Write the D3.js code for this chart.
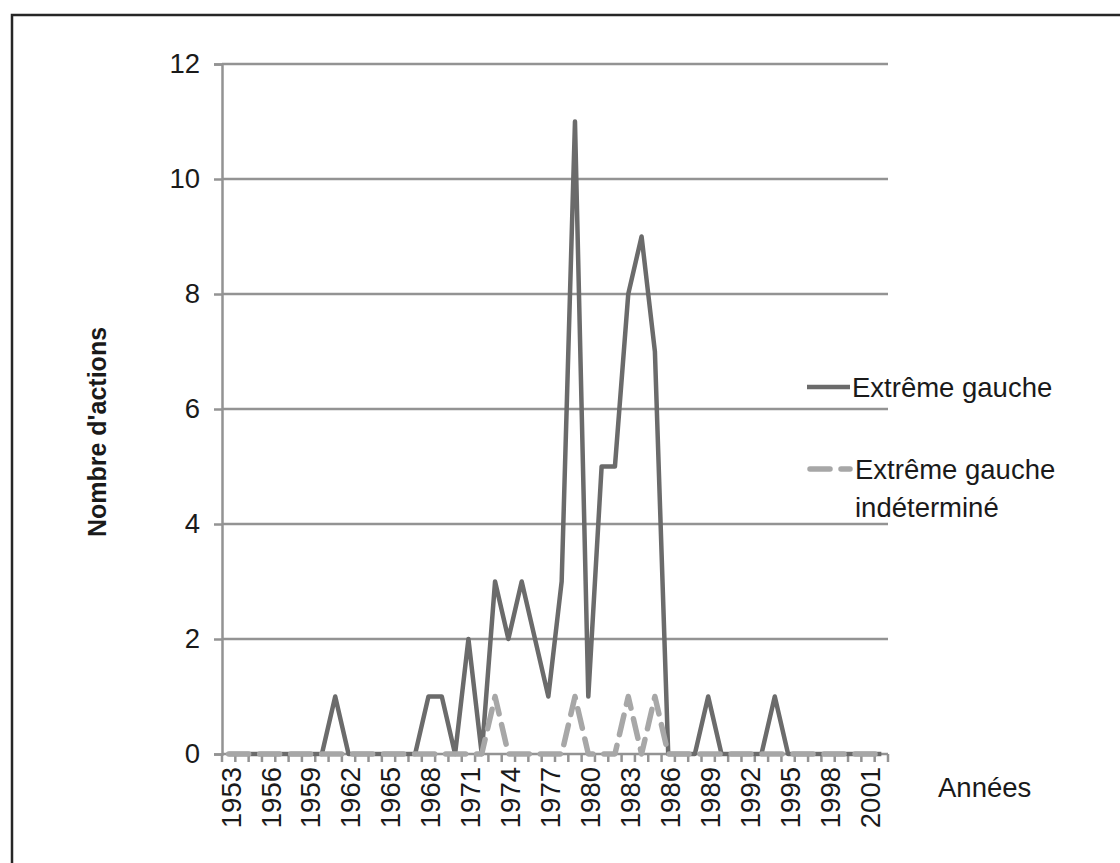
<!DOCTYPE html>
<html>
<head>
<meta charset="utf-8">
<script src="https://cdn.jsdelivr.net/npm/d3@7"></script>
<style>
  body { margin: 0; background: #fff; }
  text { font-family: "Liberation Sans", Arial, sans-serif; fill: #1a1a1a; }
</style>
</head>
<body>
<div id="chart"></div>
<script>
const years = [1953, 1954, 1955, 1956, 1957, 1958, 1959, 1960, 1961, 1962,
    1963, 1964, 1965, 1966, 1967, 1968, 1969, 1970, 1971, 1972,
    1973, 1974, 1975, 1976, 1977, 1978, 1979, 1980, 1981, 1982,
    1983, 1984, 1985, 1986, 1987, 1988, 1989, 1990, 1991, 1992,
    1993, 1994, 1995, 1996, 1997, 1998, 1999, 2000, 2001, 2002];

// Extrême gauche
const gauche = [0, 0, 0, 0, 0, 0, 0, 0, 1, 0,
    0, 0, 0, 0, 0, 1, 1, 0, 2, 0,
    3, 2, 3, 2, 1, 3, 11, 1, 5, 5,
    8, 9, 7, 0, 0, 0, 1, 0, 0, 0,
    0, 1, 0, 0, 0, 0, 0, 0, 0, 0];

// Extrême gauche indéterminé
const indetermine = [0, 0, 0, 0, 0, 0, 0, 0, 0, 0,
    0, 0, 0, 0, 0, 0, 0, 0, 0, 0,
    1, 0, 0, 0, 0, 0, 1, 0, 0, 0,
    1, 0, 1, 0, 0, 0, 0, 0, 0, 0,
    0, 0, 0, 0, 0, 0, 0, 0, 0, 0];

const yTicks = [0, 2, 4, 6, 8, 10, 12];
const xLabels = [1953, 1956, 1959, 1962, 1965, 1968, 1971, 1974, 1977, 1980,
    1983, 1986, 1989, 1992, 1995, 1998, 2001];

const width = 1120, height = 863;
const plot = { left: 222, right: 888, top: 64, bottom: 754 };
const fs = "27.5px";

const svg = d3.select("#chart")
    .append("svg")
    .attr("width", width)
    .attr("height", height);

// outer frame
svg.append("rect")
    .attr("x", 12)
    .attr("y", 15)
    .attr("width", 1200)
    .attr("height", 1000)
    .attr("fill", "none")
    .attr("stroke", "#262626")
    .attr("stroke-width", 2.5);

const x = d3.scaleBand()
    .domain(years)
    .range([plot.left, plot.right]);

const y = d3.scaleLinear()
    .domain([0, 12])
    .range([plot.bottom, plot.top]);

const cx = d => x(d) + x.bandwidth() / 2;

// gridlines
svg.append("g")
    .selectAll("line")
    .data(yTicks.filter(d => d > 0))
    .enter()
    .append("line")
    .attr("x1", plot.left)
    .attr("x2", plot.right)
    .attr("y1", d => y(d))
    .attr("y2", d => y(d))
    .attr("stroke", "#939393")
    .attr("stroke-width", 2.5);

// y axis
const yAxis = svg.append("g")
    .attr("transform", `translate(${plot.left},0)`)
    .call(d3.axisLeft(y).tickValues(yTicks).tickSize(8).tickPadding(14));
yAxis.select(".domain").attr("stroke", "#939393").attr("stroke-width", 2.5);
yAxis.selectAll(".tick line").attr("stroke", "#939393").attr("stroke-width", 2.5);
yAxis.selectAll("text")
    .style("font-size", fs)
    .style("font-family", "'Liberation Sans', Arial, sans-serif")
    .attr("fill", "#1a1a1a");

// x axis: ticks on category boundaries
const xg = svg.append("g");
xg.append("line")
    .attr("x1", plot.left)
    .attr("x2", plot.right)
    .attr("y1", plot.bottom)
    .attr("y2", plot.bottom)
    .attr("stroke", "#939393")
    .attr("stroke-width", 2.5);
xg.selectAll("line.tk")
    .data(years.concat([null]))
    .enter()
    .append("line")
    .attr("class", "tk")
    .attr("x1", (d, i) => plot.left + i * x.bandwidth())
    .attr("x2", (d, i) => plot.left + i * x.bandwidth())
    .attr("y1", plot.bottom)
    .attr("y2", plot.bottom + 8)
    .attr("stroke", "#939393")
    .attr("stroke-width", 2.5);
xg.selectAll("text")
    .data(xLabels)
    .enter()
    .append("text")
    .attr("transform", d => `translate(${cx(d) + 2},767) rotate(-90)`)
    .attr("text-anchor", "end")
    .attr("dy", "0.36em")
    .style("font-size", fs)
    .text(d => d);

// series
const line = d3.line()
    .x((d, i) => cx(years[i]))
    .y(d => y(d));

svg.append("path")
    .datum(gauche)
    .attr("d", line)
    .attr("fill", "none")
    .attr("stroke", "#6b6b6b")
    .attr("stroke-width", 4.5)
    .attr("stroke-linejoin", "round");

svg.append("path")
    .datum(indetermine)
    .attr("d", line)
    .attr("fill", "none")
    .attr("stroke", "#a7a7a7")
    .attr("stroke-width", 5.5)
    .attr("stroke-linecap", "round")
    .attr("stroke-linejoin", "round")
    .attr("stroke-dasharray", "20,11");

// axis titles
svg.append("text")
    .attr("transform", "translate(97,432) rotate(-90)")
    .attr("text-anchor", "middle")
    .attr("dy", "0.36em")
    .style("font-size", "25px")
    .style("font-weight", "bold")
    .text("Nombre d'actions");

svg.append("text")
    .attr("x", 938)
    .attr("y", 797)
    .style("font-size", fs)
    .text("Années");

// legend
const legend = svg.append("g");
legend.append("line")
    .attr("x1", 807).attr("x2", 850)
    .attr("y1", 387).attr("y2", 387)
    .attr("stroke", "#6b6b6b")
    .attr("stroke-width", 4.5);
legend.append("text")
    .attr("x", 852)
    .attr("y", 387)
    .attr("dy", "0.36em")
    .style("font-size", fs)
    .text("Extrême gauche");

legend.append("line")
    .attr("x1", 810).attr("x2", 850)
    .attr("y1", 469).attr("y2", 469)
    .attr("stroke", "#a7a7a7")
    .attr("stroke-width", 5.5)
    .attr("stroke-linecap", "round")
    .attr("stroke-dasharray", "20,11");
legend.append("text")
    .attr("x", 855)
    .attr("y", 469)
    .attr("dy", "0.36em")
    .style("font-size", fs)
    .text("Extrême gauche");
legend.append("text")
    .attr("x", 855)
    .attr("y", 507)
    .attr("dy", "0.36em")
    .style("font-size", fs)
    .text("indéterminé");
</script>
</body>
</html>
